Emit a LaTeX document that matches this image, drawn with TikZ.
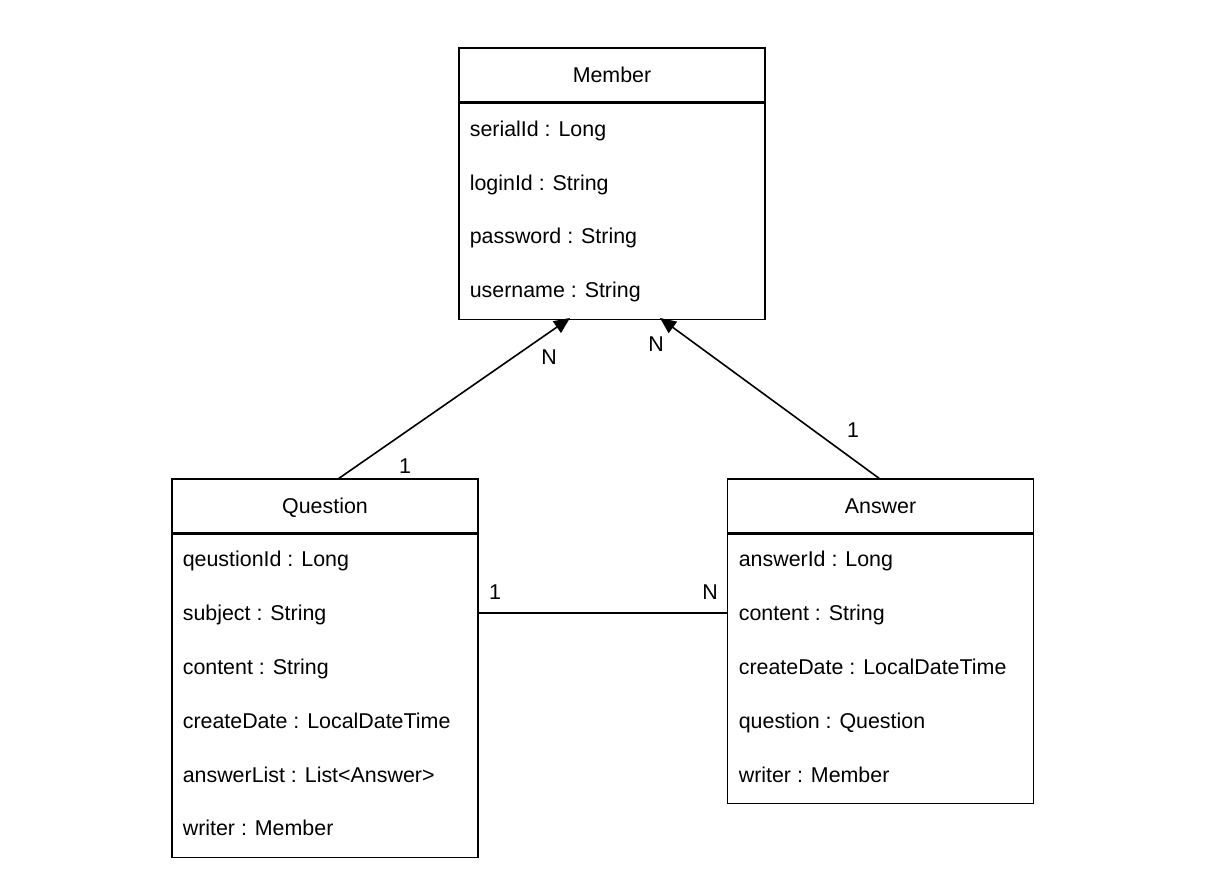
\documentclass[tikz,border=0pt]{standalone}
\usepackage{fontspec}
\setmainfont{Liberation Sans}
\usetikzlibrary{arrows.meta}
\begin{document}
\begin{tikzpicture}[x=1pt,y=-1pt,line width=1.6pt,
 font=\fontsize{21.4}{25}\selectfont,
 header/.style={rectangle,draw,minimum width=306pt,minimum height=54pt,inner sep=0pt,text height=15.3pt,text depth=0pt},
 body/.style={rectangle,draw,minimum width=306pt,anchor=north,inner sep=0pt},
 field/.style={anchor=west,inner sep=0pt,text height=15.3pt,text depth=0pt},
 mult/.style={inner sep=0pt,text height=15.3pt,text depth=0pt},
 assoc/.style={-{Triangle[length=16pt,width=14pt]}}]
 \useasboundingbox (0,0) rectangle (1208,882);
 % Member
 \node[header] (member) at (612,75) {Member};
 \node[body,minimum height=216pt] (memberbody) at (member.south) {};
 \node[field] (serialid) at (469,129) {serialId : Long};
 \node[field] (loginid) at (469,183) {loginId : String};
 \node[field] (password) at (469,236) {password : String};
 \node[field] (username) at (469,290) {username : String};
 % Question
 \node[header] (question) at (325,506) {Question};
 \node[body,minimum height=323pt] (questionbody) at (question.south) {};
 \node[field] (qid) at (182,559) {qeustionId : Long};
 \node[field] (subject) at (182,613) {subject : String};
 \node[field] (qcontent) at (182,667) {content : String};
 \node[field] (qdate) at (182,721) {createDate : LocalDateTime};
 \node[field] (alist) at (182,775) {answerList : List<Answer>};
 \node[field] (qwriter) at (182,828) {writer : Member};
 % Answer
 \node[header] (answer) at (880.5,506) {Answer};
 \node[body,minimum height=269pt] (answerbody) at (answer.south) {};
 \node[field] (aid) at (738,559) {answerId : Long};
 \node[field] (acontent) at (738,613) {content : String};
 \node[field] (adate) at (738,667) {createDate : LocalDateTime};
 \node[field] (aquestion) at (738,721) {question : Question};
 \node[field] (awriter) at (738,775) {writer : Member};
 % attachment points
 \coordinate (qtop) at (338,479);
 \coordinate (atop) at (880,479);
 \coordinate (mleft) at (570,318);
 \coordinate (mright) at (660,318);
 \draw[assoc] (qtop)--(mleft);
 \draw[assoc] (atop)--(mright);
 \draw (questionbody.east|-acontent)--(answerbody.west|-acontent);
 % multiplicities
 \node[mult] (q1) at (405,466) {1};
 \node[mult] (qn) at (549,357) {N};
 \node[mult] (an) at (656,344) {N};
 \node[mult] (a1) at (853,430) {1};
 \node[mult] (qa1) at (495,592) {1};
 \node[mult] (qan) at (710,592) {N};
\end{tikzpicture}
\end{document}
